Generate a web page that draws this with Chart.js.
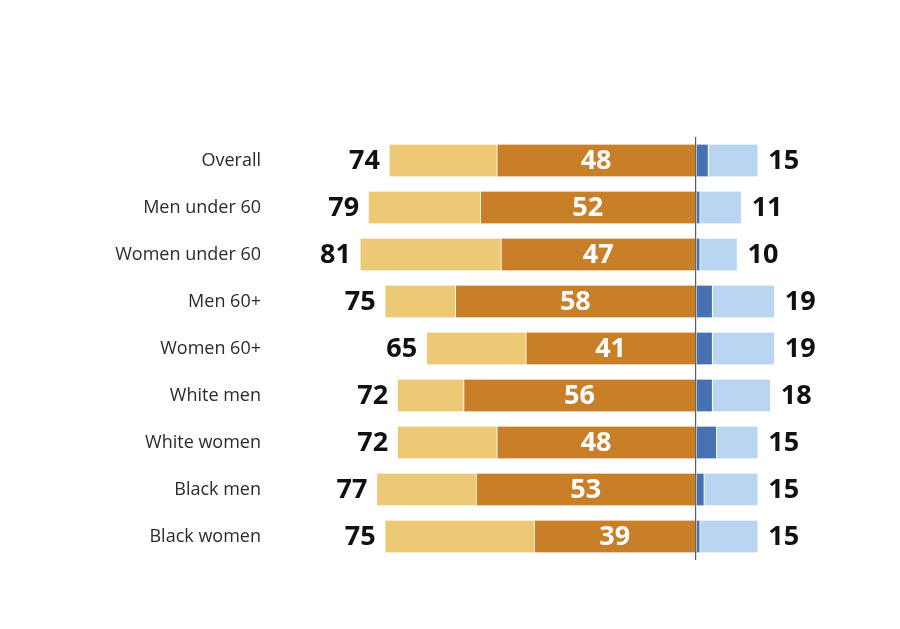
<!DOCTYPE html>
<html>
<head>
<meta charset="utf-8">
<script src="https://cdn.jsdelivr.net/npm/chart.js@4/dist/chart.umd.min.js"></script>
<style>
  html, body { margin: 0; padding: 0; background: #fff; }
  #wrap { width: 900px; height: 629px; }
</style>
</head>
<body>
<div id="wrap"><canvas id="chart" width="900" height="629"></canvas></div>
<script>
// Values
const categories = ['Overall', 'Men under 60', 'Women under 60', 'Men 60+', 'Women 60+',
    'White men', 'White women', 'Black men', 'Black women'];
const leftTotal = [74, 79, 81, 75, 65, 72, 72, 77, 75];
const leftStrong = [48, 52, 47, 58, 41, 56, 48, 53, 39];
const rightTotal = [15, 11, 10, 19, 19, 18, 15, 15, 15];
const rightStrong = [3, 1, 1, 4, 4, 4, 5, 2, 1];

const leftRest = leftTotal.map((t, i) => t - leftStrong[i]);
const rightRest = rightTotal.map((t, i) => t - rightStrong[i]);

const numFont = "bold 27px 'Open Sans', sans-serif";

// Draws the totals at the outer ends and the strong value inside the dark bar
const labelPlugin = {
    id: 'barLabels',
    afterDatasetsDraw(chart) {
        const ctx = chart.ctx;
        const darkLeft = chart.getDatasetMeta(0).data;
        const lightLeft = chart.getDatasetMeta(1).data;
        const lightRight = chart.getDatasetMeta(3).data;
        ctx.save();
        ctx.font = numFont;
        ctx.textBaseline = 'middle';
        categories.forEach((c, i) => {
            const l = lightLeft[i];
            ctx.fillStyle = '#111';
            ctx.textAlign = 'right';
            ctx.fillText(String(leftTotal[i]), l.x - 9, l.y + 1);

            const d = darkLeft[i];
            ctx.fillStyle = '#fff';
            ctx.textAlign = 'center';
            ctx.fillText(String(leftStrong[i]), (d.x + d.base) / 2, d.y + 1);

            const r = lightRight[i];
            ctx.fillStyle = '#111';
            ctx.textAlign = 'left';
            ctx.fillText(String(rightTotal[i]), r.x + 10, r.y + 1);
        });
        ctx.restore();
    }
};

const barBase = {
    barThickness: 32,
    borderColor: '#fff',
    borderWidth: { left: 1, right: 1, top: 0, bottom: 0 },
    stack: 'all'
};

new Chart(document.getElementById('chart'), {
    type: 'bar',
    data: {
        labels: categories,
        datasets: [
            { ...barBase, data: leftStrong.map(v => -v), backgroundColor: '#C97F27' },
            { ...barBase, data: leftRest.map(v => -v), backgroundColor: '#EDC875' },
            { ...barBase, data: rightStrong, backgroundColor: '#4672B2' },
            { ...barBase, data: rightRest, backgroundColor: '#B9D5F2' }
        ]
    },
    options: {
        indexAxis: 'y',
        responsive: false,
        animation: false,
        layout: { padding: { top: 137, bottom: 69, left: 0, right: 38 } },
        plugins: {
            legend: { display: false },
            tooltip: { enabled: false }
        },
        scales: {
            x: {
                stacked: true,
                min: -102.65,
                max: 40,
                z: 1,
                afterBuildTicks: (scale) => { scale.ticks = [{ value: 0 }]; },
                ticks: { display: false },
                grid: { color: '#5a5a5a', lineWidth: 1.2, drawTicks: false },
                border: { display: false }
            },
            y: {
                stacked: true,
                afterFit: (scale) => { scale.width = 270; },
                grid: { display: false },
                border: { display: false },
                ticks: {
                    color: '#2b2b2b',
                    padding: 1,
                    font: { family: "'Open Sans', sans-serif", size: 18 }
                }
            }
        }
    },
    plugins: [labelPlugin]
});
</script>
</body>
</html>
